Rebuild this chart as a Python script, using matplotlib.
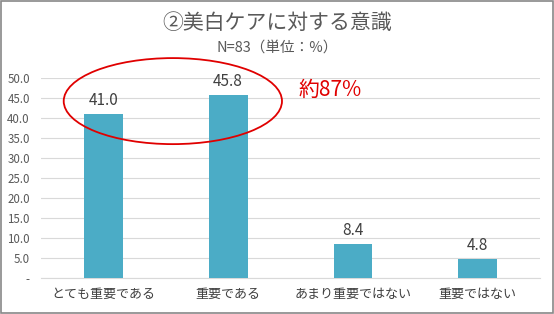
import matplotlib
matplotlib.use("Agg")
import matplotlib.pyplot as plt
from matplotlib.patches import Ellipse, Rectangle

plt.rcParams['font.family'] = ['Noto Sans CJK JP', 'DejaVu Sans']

categories = ['とても重要である', '重要である', 'あまり重要ではない', '重要ではない']
values = [41.0, 45.8, 8.4, 4.8]
yticks = [0, 5, 10, 15, 20, 25, 30, 35, 40, 45, 50]
ytick_labels = ['-'] + ['%.1f' % v for v in yticks[1:]]

text_col = '#595959'
bar_col = '#4BACC6'

fig = plt.figure(figsize=(5.54, 3.14), dpi=100)
ax = fig.add_axes([0.074, 0.115, 0.901, 0.637])

x = range(len(categories))
ax.bar(x, values, width=0.31, color=bar_col, zorder=3)
for xi, v in zip(x, values):
    ax.annotate('%.1f' % v, (xi, v), xytext=(0, 3.5), textcoords='offset points',
                ha='center', va='bottom', fontsize=11, color='#404040')

ax.set_xlim(-0.5, len(categories) - 0.5)
ax.set_ylim(0, 50)
ax.set_yticks(yticks)
ax.set_yticklabels(ytick_labels, fontsize=8.3, color=text_col)
ax.set_xticks(list(x))
ax.set_xticklabels(categories, fontsize=9.4, color='#404040')
ax.tick_params(axis='both', length=0)
ax.tick_params(axis='x', pad=7)
ax.tick_params(axis='y', pad=8)
ax.grid(axis='y', color='#d9d9d9', linewidth=0.8, zorder=0)
for s in ['top', 'right', 'left']:
    ax.spines[s].set_visible(False)
ax.spines['bottom'].set_color('#d9d9d9')

fig.text(0.5, 0.928, '②美白ケアに対する意識', ha='center', va='center',
         fontsize=15, color=text_col)
fig.text(0.5, 0.85, 'N=83（単位：%）', ha='center', va='center',
         fontsize=10.5, color=text_col)

fig.patches.append(Ellipse((0.312, 0.678), 0.394, 0.274, transform=fig.transFigure,
                           fill=False, edgecolor='#e00000', linewidth=1.3))
fig.text(0.538, 0.713, '約87%', ha='left', va='center', fontsize=15,
         color='#e00000')

fig.patches.append(Rectangle((0.001, 0.002), 0.997, 0.995, transform=fig.transFigure,
                             fill=False, edgecolor='#888888', linewidth=1.2))

fig.savefig('out.png', dpi=100)
